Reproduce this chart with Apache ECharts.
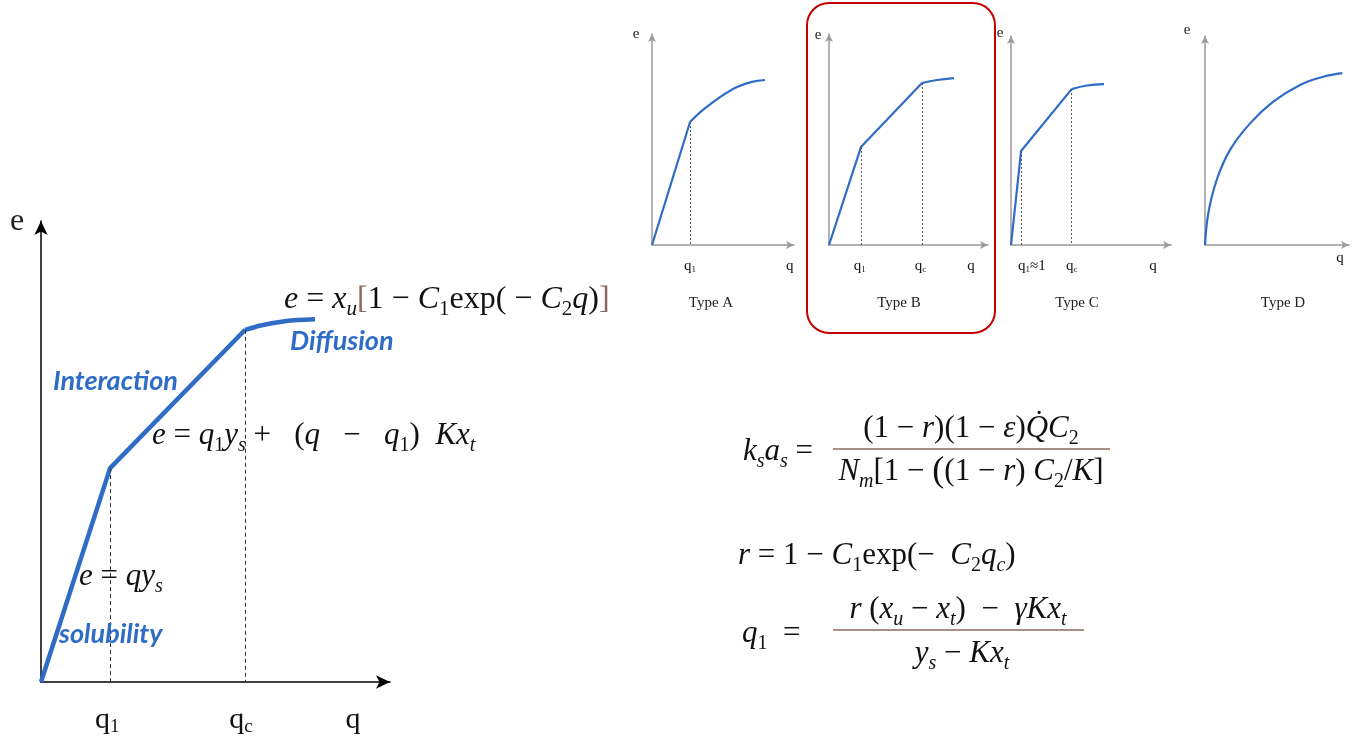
<!DOCTYPE html>
<html>
<head>
<meta charset="utf-8">
<script src="https://cdn.jsdelivr.net/npm/echarts@6/dist/echarts.min.js"></script>
<style>
  html, body { margin: 0; padding: 0; background: #fff; }
  #chart { width: 1367px; height: 740px; }
</style>
</head>
<body>
<div id="chart"></div>
<script>
// main curve (q, e) in axis units 0..100
const mainQ = [0, 19.8, 58.5, 63.3, 68.5, 73.4, 78.5];
const mainE = [0, 46.4, 76.4, 77.4, 78.1, 78.5, 78.7];
const mainTicks = [19.0, 57.3, 89.4];
const mainTickLabels = ['q{s|1}', 'q{s|c}', 'q'];

// small panels
const typeAQ = [0, 26.8, 35.9, 47.9, 59.9, 70.4, 79.6];
const typeAE = [0, 58.3, 64.0, 70.1, 74.9, 77.3, 78.2];
const typeBQ = [0, 20.1, 58.5, 67.9, 78.6];
const typeBE = [0, 46.4, 76.8, 78.2, 79.1];
const typeCQ = [0, 6.3, 37.9, 47.5, 58.1];
const typeCE = [0, 45.0, 74.6, 76.3, 77.0];
const typeDQ = [0, 2.3, 8.1, 17.4, 31.3, 47.4, 66.0, 82.2, 95.3];
const typeDE = [0, 15.2, 31.1, 45.5, 58.2, 68.6, 76.6, 80.5, 82.2];

const typeATicks = [26.8, 97];
const typeATickLabels = ['q{s|1}', 'q'];
const typeBTicks = [19.4, 57.5, 89.3];
const typeBTickLabels = ['q{s|1}', 'q{s|c}', 'q'];
const typeCTicks = [13.1, 37.9, 88.8];
const typeCTickLabels = ['q{s|1}≈1', 'q{s|c}', 'q'];
const typeDTicks = [93.8];
const typeDTickLabels = ['q'];

const typeNames = ['Type A', 'Type B', 'Type C', 'Type D'];

const SERIF = 'Liberation Serif';
const BLUE = '#2f6cc6';
const BROWN = '#8b6b5f';

const zip = (a, b) => a.map((v, i) => [v, b[i]]);

function mathRich(fs) {
  const L = Math.round(fs * 1.3);
  const p = Math.round(fs * 0.6);
  return {
    i: { fontFamily: SERIF, fontStyle: 'italic', fontSize: fs, lineHeight: L, fill: '#111' },
    s: { fontFamily: SERIF, fontStyle: 'italic', fontSize: Math.round(fs * 0.66), lineHeight: L, padding: [p, 0, 0, 0], fill: '#111' },
    d: { fontFamily: SERIF, fontSize: Math.round(fs * 0.66), lineHeight: L, padding: [p, 0, 0, 0], fill: '#111' },
    b: { fontFamily: SERIF, fontSize: fs, lineHeight: L, fill: BROWN },
    big: { fontFamily: SERIF, fontSize: Math.round(fs * 1.15), lineHeight: L, fill: '#111' }
  };
}

function mathText(x, y, text, fs, align) {
  return {
    type: 'text', x: x, y: y, z: 10,
    style: {
      text: text, fontFamily: SERIF, fontSize: fs, lineHeight: Math.round(fs * 1.3),
      fill: '#111', align: align || 'left', verticalAlign: 'middle',
      rich: mathRich(fs)
    }
  };
}

function label(x, y, text, fs) {
  return {
    type: 'text', x: x, y: y, z: 10,
    style: { text: text, fontFamily: 'Lato', fontWeight: 'bold', fontStyle: 'italic',
      fontSize: fs, fill: BLUE, align: 'left', verticalAlign: 'middle' }
  };
}

function plainText(x, y, text, fs, align) {
  return {
    type: 'text', x: x, y: y, z: 10,
    style: { text: text, fontFamily: SERIF, fontSize: fs, fill: '#222',
      align: align || 'center', verticalAlign: 'middle' }
  };
}

function fracLine(x1, x2, y) {
  return { type: 'line', z: 10, shape: { x1: x1, y1: y, x2: x2, y2: y },
    style: { stroke: BROWN, lineWidth: 1.5 } };
}

const grids = [
  { left: 41, top: 221, width: 349, height: 461 },
  { left: 652, top: 34, width: 142, height: 211 },
  { left: 829, top: 34, width: 159, height: 211 },
  { left: 1011, top: 36, width: 160, height: 209 },
  { left: 1205, top: 36, width: 144, height: 209 }
];

const tickSets = [
  [mainTicks, mainTickLabels],
  [typeATicks, typeATickLabels],
  [typeBTicks, typeBTickLabels],
  [typeCTicks, typeCTickLabels],
  [typeDTicks, typeDTickLabels]
];

function axisCfg(i) {
  const big = i === 0;
  return {
    gridIndex: i, type: 'value', min: 0, max: 100,
    splitLine: { show: false },
    axisTick: { show: false },
    axisLabel: { show: false },
    axisLine: {
      show: true,
      symbol: ['none', 'arrow'],
      symbolSize: big ? [10, 14] : [6, 8],
      lineStyle: { color: big ? '#000' : '#9a9a9a', width: 1.5 }
    }
  };
}

const xAxes = grids.map((g, i) => axisCfg(i));
const yAxes = grids.map((g, i) => axisCfg(i));

function dropLines(points, big) {
  return {
    silent: true, symbol: 'none', animation: false,
    label: { show: false },
    lineStyle: { type: big ? [4, 3] : [2, 2], color: big ? '#333' : '#555', width: 1 },
    data: points.map(p => [{ coord: p }, { coord: [p[0], 0] }])
  };
}

function curve(i, data, width, drops, smooth) {
  return {
    type: 'line', xAxisIndex: i, yAxisIndex: i,
    data: data, showSymbol: false, symbol: 'none',
    smooth: smooth || false, animation: false,
    lineStyle: { color: BLUE, width: width },
    markLine: drops ? dropLines(drops, i === 0) : undefined,
    z: 3
  };
}

const mainData = zip(mainQ, mainE);
const aData = zip(typeAQ, typeAE);
const bData = zip(typeBQ, typeBE);
const cData = zip(typeCQ, typeCE);
const dData = zip(typeDQ, typeDE);

const series = [
  curve(0, mainData.slice(0, 3), 4.5, [mainData[1], mainData[2]]),
  curve(0, mainData.slice(2), 4.5, null, 0.4),
  curve(1, aData.slice(0, 2), 2.2, [aData[1]]),
  curve(1, aData.slice(1), 2.2, null, 0.4),
  curve(2, bData.slice(0, 3), 2.2, [bData[1], bData[2]]),
  curve(2, bData.slice(2), 2.2, null, 0.4),
  curve(3, cData.slice(0, 3), 2.2, [cData[1], cData[2]]),
  curve(3, cData.slice(2), 2.2, null, 0.4),
  curve(4, dData, 2.2, null, 0.4)
];

const FS = 31;
const graphic = [
  // highlight box round Type B
  { type: 'rect', z: 1, shape: { x: 807, y: 3, width: 188, height: 330, r: 22 },
    style: { fill: 'none', stroke: '#c40000', lineWidth: 2 } },

  // axis names
  plainText(17, 222, 'e', 32),
  plainText(636, 34, 'e', 15),
  plainText(818, 35, 'e', 15),
  plainText(1000, 33, 'e', 15),
  plainText(1187, 30, 'e', 15),

  // panel titles
  plainText(711, 303, typeNames[0], 15),
  plainText(899, 303, typeNames[1], 15),
  plainText(1077, 303, typeNames[2], 15),
  plainText(1283, 303, typeNames[3], 15),

  // region labels
  label(53, 381, 'Interaction', 27),
  label(290, 341, 'Diffusion', 27),
  label(59, 634, 'solubility', 27),

  // equations on main plot
  mathText(284, 300, '{i|e} = {i|x}{s|u}{b|[}1 − {i|C}{d|1}exp( − {i|C}{d|2}{i|q}){b|]}', 32),
  mathText(152, 436, '{i|e} = {i|q}{d|1}{i|y}{s|s} +   ({i|q}   −   {i|q}{d|1})  {i|Kx}{s|t}', FS),
  mathText(79, 577, '{i|e} = {i|qy}{s|s}', FS),

  // right-hand equations
  mathText(743, 452, '{i|k}{s|s}{i|a}{s|s} =', FS),
  fracLine(833, 1110, 449),
  mathText(971, 429, '(1 − {i|r})(1 − {i|ε}){i|Q\u0307C}{d|2}', FS, 'center'),
  mathText(971, 472, '{i|N}{s|m}[1 − {big|(}(1 − {i|r}) {i|C}{d|2}/{i|K}]', FS, 'center'),

  mathText(738, 556, '{i|r} = 1 − {i|C}{d|1}exp(−  {i|C}{d|2}{i|q}{s|c})', FS),

  mathText(742, 634, '{i|q}{d|1}  =', FS),
  fracLine(833, 1084, 630),
  mathText(958, 610, '{i|r} ({i|x}{s|u} − {i|x}{s|t})  −  {i|γKx}{s|t}', FS, 'center'),
  mathText(962, 654, '{i|y}{s|s} − {i|Kx}{s|t}', FS, 'center')
];

const chart = echarts.init(document.getElementById('chart'));
chart.setOption({
  backgroundColor: '#fff',
  animation: false,
  grid: grids,
  xAxis: xAxes,
  yAxis: yAxes,
  series: series
});

// tick labels placed through each grid's own scale
const tickY = [720, 266, 266, 266, 258];
tickSets.forEach((set, i) => {
  const fs = i === 0 ? 30 : 15;
  set[0].forEach((v, k) => {
    const px = chart.convertToPixel({ gridIndex: i }, [v, 0]);
    graphic.push({
      type: 'text', x: px[0], y: tickY[i], z: 10,
      style: {
        text: set[1][k], fontFamily: SERIF, fontSize: fs, fill: '#111',
        align: 'center', verticalAlign: 'middle', lineHeight: Math.round(fs * 1.2),
        rich: {
          s: { fontFamily: SERIF, fontSize: Math.round(fs * 0.62), lineHeight: Math.round(fs * 1.2),
               padding: [Math.round(fs * 0.45), 0, 0, 0], fill: '#111' }
        }
      }
    });
  });
});

chart.setOption({ graphic: graphic });
</script>
</body>
</html>
